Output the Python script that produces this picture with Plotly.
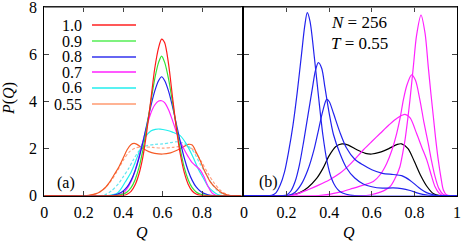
import plotly.graph_objects as go

W, H = 463, 244

# ---------------- Panel (a) data ----------------
q_10 = [0.0, 0.38, 0.40, 0.42, 0.44, 0.46, 0.48, 0.50, 0.52, 0.54, 0.56, 0.58, 0.595, 0.61, 0.63, 0.65, 0.67, 0.69, 0.71, 0.73, 0.75, 0.77, 0.79, 0.81, 1.0]
p_10 = [0.0, 0.0, 0.01, 0.06, 0.18, 0.45, 0.92, 1.65, 2.75, 4.05, 5.4, 6.3, 6.65, 6.5, 5.6, 4.2, 2.85, 1.75, 0.98, 0.48, 0.2, 0.07, 0.02, 0.0, 0.0]

q_09 = [0.0, 0.36, 0.38, 0.40, 0.42, 0.44, 0.46, 0.48, 0.50, 0.52, 0.54, 0.56, 0.58, 0.595, 0.61, 0.63, 0.65, 0.67, 0.69, 0.71, 0.73, 0.75, 0.77, 0.79, 0.81, 0.83, 1.0]
p_09 = [0.0, 0.0, 0.03, 0.07, 0.16, 0.34, 0.67, 1.19, 1.95, 2.91, 3.97, 4.96, 5.67, 5.93, 5.67, 4.96, 3.97, 2.91, 1.95, 1.19, 0.67, 0.34, 0.16, 0.07, 0.03, 0.0, 0.0]

q_08 = [0.0, 0.34, 0.36, 0.38, 0.40, 0.42, 0.44, 0.46, 0.48, 0.50, 0.52, 0.54, 0.56, 0.58, 0.595, 0.61, 0.63, 0.65, 0.67, 0.69, 0.71, 0.73, 0.75, 0.77, 0.79, 0.81, 0.83, 0.86, 1.0]
p_08 = [0.0, 0.0, 0.04, 0.1, 0.2, 0.37, 0.65, 1.05, 1.59, 2.27, 3.03, 3.79, 4.44, 4.89, 5.05, 4.89, 4.44, 3.79, 3.03, 2.27, 1.59, 1.05, 0.65, 0.37, 0.2, 0.1, 0.04, 0.0, 0.0]

q_07 = [0.0, 0.35, 0.38, 0.40, 0.42, 0.44, 0.46, 0.48, 0.50, 0.52, 0.54, 0.56, 0.58, 0.595, 0.61, 0.63, 0.65, 0.67, 0.69, 0.71, 0.73, 0.75, 0.77, 0.79, 0.81, 0.83, 0.85, 0.87, 0.90, 1.0]
p_07 = [0.0, 0.0, 0.05, 0.12, 0.3, 0.6, 1.05, 1.65, 2.3, 2.95, 3.5, 3.85, 4.02, 4.03, 3.95, 3.65, 3.2, 2.7, 2.3, 1.95, 1.65, 1.4, 1.25, 1.1, 0.8, 0.4, 0.12, 0.02, 0.0, 0.0]

q_06 = [0.0, 0.32, 0.35, 0.369, 0.39, 0.411, 0.44, 0.462, 0.49, 0.513, 0.54, 0.563, 0.587, 0.62, 0.65, 0.689, 0.72, 0.757, 0.78, 0.807, 0.83, 0.858, 0.88, 0.91, 1.0]
p_06 = [0.0, 0.0, 0.05, 0.1, 0.3, 0.59, 1.0, 1.44, 2.05, 2.5, 2.75, 2.82, 2.83, 2.78, 2.7, 2.55, 2.2, 1.59, 1.15, 0.74, 0.4, 0.17, 0.05, 0.0, 0.0]

q_055 = [0.0, 0.20, 0.232, 0.26, 0.283, 0.31, 0.333, 0.355, 0.378, 0.40, 0.42, 0.44, 0.455, 0.47, 0.50, 0.53, 0.56, 0.60, 0.64, 0.67, 0.70, 0.73, 0.75, 0.77, 0.79, 0.807, 0.825, 0.841, 0.87, 0.90, 0.93, 0.95, 1.0]
p_055 = [0.0, 0.0, 0.03, 0.08, 0.17, 0.35, 0.6, 0.9, 1.22, 1.6, 1.95, 2.17, 2.22, 2.18, 2.0, 1.87, 1.8, 1.77, 1.82, 1.92, 2.05, 2.18, 2.15, 1.85, 1.5, 1.16, 0.85, 0.6, 0.32, 0.12, 0.03, 0.0, 0.0]

q_06d = [0.0, 0.28, 0.31, 0.34, 0.378, 0.40, 0.428, 0.45, 0.48, 0.51, 0.563, 0.60, 0.64, 0.672, 0.70, 0.73, 0.757, 0.79, 0.824, 0.85, 0.88, 0.91, 0.94, 1.0]
p_06d = [0.0, 0.0, 0.05, 0.2, 0.53, 0.8, 1.16, 1.5, 1.9, 2.1, 2.18, 2.2, 2.25, 2.29, 2.25, 2.1, 1.87, 1.35, 0.88, 0.5, 0.2, 0.05, 0.0, 0.0]

q_055d = [0.0, 0.22, 0.25, 0.28, 0.31, 0.34, 0.37, 0.40, 0.43, 0.46, 0.50, 0.55, 0.60, 0.65, 0.70, 0.74, 0.77, 0.80, 0.83, 0.86, 0.89, 0.92, 0.95, 1.0]
p_055d = [0.0, 0.0, 0.05, 0.15, 0.35, 0.65, 1.05, 1.5, 1.85, 2.02, 2.07, 2.05, 2.02, 2.05, 2.1, 2.05, 1.8, 1.4, 0.95, 0.55, 0.25, 0.08, 0.0, 0.0]

legend_labels = ["1.0", "0.9", "0.8", "0.7", "0.6", "0.55"]
legend_colors = ["#ff2020", "#55ee55", "#3333ee", "#ff22ff", "#22eeee", "#ff9a70"]

# ---------------- Panel (b) data ----------------
q_b1 = [0.0, 0.10, 0.13, 0.15, 0.17, 0.19, 0.21, 0.23, 0.25, 0.27, 0.285, 0.297, 0.31, 0.33, 0.35, 0.37, 0.39, 0.41, 0.43, 0.45, 0.48, 0.52, 1.0]
p_b1 = [0.0, 0.0, 0.02, 0.12, 0.45, 1.0, 1.9, 3.0, 4.4, 6.0, 7.2, 7.77, 7.4, 5.9, 4.2, 2.6, 1.45, 0.75, 0.38, 0.18, 0.06, 0.0, 0.0]

q_b2 = [0.0, 0.18, 0.20, 0.22, 0.24, 0.26, 0.28, 0.30, 0.32, 0.335, 0.349, 0.365, 0.38, 0.40, 0.42, 0.45, 0.48, 0.52, 0.56, 0.60, 0.65, 0.70, 0.74, 0.78, 0.82, 0.86, 0.90, 1.0]
p_b2 = [0.0, 0.0, 0.03, 0.2, 0.6, 1.3, 2.3, 3.4, 4.5, 5.3, 5.65, 5.4, 4.6, 3.5, 2.6, 1.8, 1.2, 0.75, 0.5, 0.38, 0.32, 0.33, 0.3, 0.22, 0.1, 0.03, 0.0, 0.0]

q_b3 = [0.0, 0.19, 0.21, 0.24, 0.27, 0.30, 0.33, 0.35, 0.37, 0.388, 0.40, 0.42, 0.45, 0.48, 0.52, 0.56, 0.60, 0.65, 0.70, 0.74, 0.78, 0.82, 0.86, 0.90, 0.93, 1.0]
p_b3 = [0.0, 0.0, 0.02, 0.15, 0.5, 1.1, 2.0, 2.8, 3.6, 4.09, 4.0, 3.5, 2.7, 2.05, 1.55, 1.3, 1.1, 0.95, 0.9, 0.85, 0.65, 0.35, 0.12, 0.02, 0.0, 0.0]

q_bk = [0.0, 0.19, 0.22, 0.26, 0.30, 0.34, 0.37, 0.40, 0.43, 0.46, 0.49, 0.53, 0.57, 0.60, 0.64, 0.68, 0.72, 0.74, 0.77, 0.80, 0.83, 0.86, 0.89, 0.92, 1.0]
p_bk = [0.0, 0.0, 0.02, 0.12, 0.35, 0.72, 1.15, 1.7, 2.08, 2.2, 2.15, 1.95, 1.8, 1.77, 1.85, 2.0, 2.18, 2.2, 2.0, 1.45, 0.85, 0.38, 0.08, 0.0, 0.0]

q_m3 = [0.0, 0.20, 0.25, 0.30, 0.35, 0.40, 0.45, 0.50, 0.56, 0.60, 0.64, 0.68, 0.72, 0.756, 0.78, 0.81, 0.835, 0.858, 0.88, 0.897, 0.915, 0.93, 0.95, 1.0]
p_m3 = [0.0, 0.0, 0.08, 0.25, 0.45, 0.67, 0.95, 1.35, 1.94, 2.3, 2.65, 3.0, 3.3, 3.45, 3.3, 2.65, 2.05, 1.52, 0.85, 0.38, 0.12, 0.02, 0.0, 0.0]

q_m2 = [0.0, 0.35, 0.40, 0.45, 0.51, 0.56, 0.607, 0.64, 0.67, 0.695, 0.717, 0.735, 0.748, 0.765, 0.787, 0.805, 0.826, 0.845, 0.865, 0.88, 0.897, 0.915, 0.936, 0.96, 1.0]
p_m2 = [0.0, 0.0, 0.06, 0.15, 0.31, 0.45, 0.6, 0.9, 1.37, 1.95, 2.65, 3.4, 4.06, 4.7, 5.13, 4.9, 4.06, 3.1, 2.22, 1.5, 0.81, 0.3, 0.05, 0.0, 0.0]

q_m1 = [0.0, 0.55, 0.59, 0.64, 0.685, 0.71, 0.732, 0.745, 0.756, 0.768, 0.779, 0.795, 0.81, 0.831, 0.85, 0.865, 0.878, 0.889, 0.90, 0.912, 0.925, 0.936, 0.95, 0.97, 1.0]
p_m1 = [0.0, 0.0, 0.03, 0.15, 0.38, 0.75, 1.23, 1.8, 2.37, 3.2, 4.06, 5.48, 6.8, 7.67, 6.9, 5.48, 4.3, 3.35, 2.4, 1.52, 0.75, 0.24, 0.04, 0.0, 0.0]

x_ticks_a = [0, 0.2, 0.4, 0.6, 0.8]
x_labels_a = ["0", "0.2", "0.4", "0.6", "0.8"]
x_ticks_b = [0, 0.2, 0.4, 0.6, 0.8, 1]
x_labels_b = ["0", "0.2", "0.4", "0.6", "0.8", "1"]
y_ticks = [0, 2, 4, 6, 8]
y_labels = ["0", "2", "4", "6", "8"]

FONT = "Liberation Serif"


def px(x):
    return x / W


def py(y):
    return 1 - y / H


fig = go.Figure()


def add(q, p, color, xa="x", ya="y", dash="solid", width=1.2):
    fig.add_trace(go.Scatter(x=q, y=p, mode="lines", xaxis=xa, yaxis=ya,
                             line=dict(color=color, width=width, dash=dash,
                                       shape="spline", smoothing=0.8),
                             showlegend=False, hoverinfo="skip"))


# panel (a)
add(q_055d, p_055d, "#ffa080", dash="3px,2px")
add(q_06d, p_06d, "#66e6f0", dash="3px,2px")
add(q_055, p_055, "#f55a25")
add(q_06, p_06, "#22eeee")
add(q_07, p_07, "#ff22ff")
add(q_08, p_08, "#2222ee")
add(q_09, p_09, "#33e033")
add(q_10, p_10, "#ff1a1a")

# panel (b)
add(q_bk, p_bk, "#000000", "x2", "y2")
add(q_m3, p_m3, "#ff22ff", "x2", "y2")
add(q_m2, p_m2, "#ff22ff", "x2", "y2")
add(q_m1, p_m1, "#ff22ff", "x2", "y2")
add(q_b3, p_b3, "#2222ee", "x2", "y2")
add(q_b2, p_b2, "#2222ee", "x2", "y2")
add(q_b1, p_b1, "#2222ee", "x2", "y2")

axis_common = dict(showline=True, linecolor="black", linewidth=1, mirror="ticks",
                   ticks="inside", ticklen=5, tickcolor="#444444", showgrid=False,
                   zeroline=False, automargin=False, ticklabeloverflow="allow",
                   tickfont=dict(family=FONT, size=16, color="black"))

fig.update_layout(
    width=W, height=H, margin=dict(l=0, r=0, t=0, b=0, autoexpand=False),
    paper_bgcolor="white", plot_bgcolor="white",
    xaxis=dict(domain=[px(44.3), px(241.5)], range=[0, 1], tickvals=x_ticks_a,
               ticktext=x_labels_a, anchor="y", ticklabelstandoff=2, **axis_common),
    yaxis=dict(domain=[py(195.7), py(7.3)], range=[0, 8], tickvals=y_ticks,
               ticktext=y_labels, anchor="x", ticklabelstandoff=3, **axis_common),
    xaxis2=dict(domain=[px(244), px(457)], range=[0, 1], tickvals=x_ticks_b,
                ticktext=x_labels_b, anchor="y2", ticklabelstandoff=2, **axis_common),
    yaxis2=dict(domain=[py(195.7), py(7.3)], range=[0, 8], tickvals=y_ticks,
                showticklabels=False, anchor="x2", **axis_common),
)

# grey top frame lines, as in the reference
for x0, x1 in [(44.3, 241.5), (244, 457)]:
    fig.add_shape(type="line", xref="paper", yref="paper", x0=px(x0), x1=px(x1),
                  y0=py(7.3), y1=py(7.3), line=dict(color="#888888", width=1.2))

ann = []
# legend
legend_rows = [25, 41, 57, 72, 88, 104]
for lab, col, yr in zip(legend_labels, legend_colors, legend_rows):
    ann.append(dict(x=px(84), y=py(yr), xref="paper", yref="paper", text=lab,
                    showarrow=False, xanchor="right", yanchor="middle",
                    font=dict(family=FONT, size=16, color="black")))
    fig.add_shape(type="line", xref="paper", yref="paper",
                  x0=px(92), x1=px(136), y0=py(yr), y1=py(yr),
                  line=dict(color=col, width=1.3))

ann += [
    dict(x=px(66), y=py(183), text="(a)"),
    dict(x=px(268), y=py(182), text="(b)"),
    dict(x=px(142), y=py(232), text="<i>Q</i>"),
    dict(x=px(349), y=py(232), text="<i>Q</i>"),
    dict(x=px(9), y=py(99), text="<i>P</i>(<i>Q</i>)", textangle=-90),
]
for a in ann[len(legend_labels):]:
    a.update(xref="paper", yref="paper", showarrow=False, xanchor="center",
             yanchor="middle", font=dict(family=FONT, size=16, color="black"))

ann.append(dict(x=px(329), y=py(23), xref="paper", yref="paper", showarrow=False,
                xanchor="left", yanchor="middle", text="<i>N</i> = 256",
                font=dict(family=FONT, size=17, color="black")))
ann.append(dict(x=px(329), y=py(43), xref="paper", yref="paper", showarrow=False,
                xanchor="left", yanchor="middle", text="<i>T</i> = 0.55",
                font=dict(family=FONT, size=17, color="black")))
fig.update_layout(annotations=ann)

fig.write_html("out.html", config={"displayModeBar": False},
               post_script="document.body.style.margin='0';document.body.style.overflow='hidden';")
